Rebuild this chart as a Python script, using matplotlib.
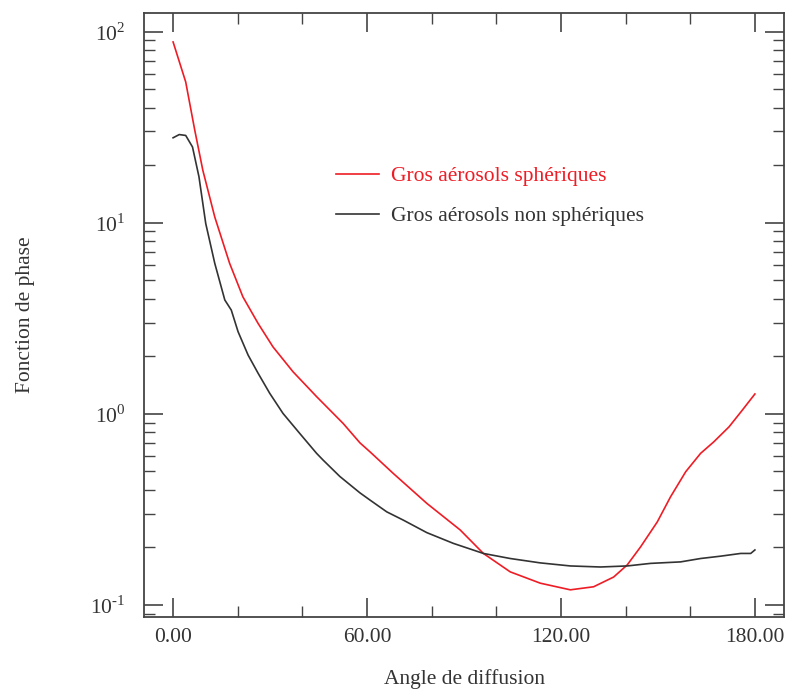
import numpy as np
import matplotlib.pyplot as plt
from matplotlib.ticker import MultipleLocator, LogLocator, FuncFormatter, NullFormatter

plt.rcParams['font.family'] = ['Liberation Serif', 'DejaVu Serif']
plt.rcParams['mathtext.fontset'] = 'custom'
plt.rcParams['mathtext.rm'] = 'Liberation Serif'

# Gros aérosols sphériques
angles_sph = [0, 3.9, 6.7, 9.2, 12.9, 17.5, 21.6, 26.3, 30.9, 37.1, 44.4, 52.6, 57.8, 60.9,
              68.1, 78.5, 88.8, 96.0, 104.3, 113.6, 122.9, 130.1, 136.3, 140.5, 144.6, 149.8,
              153.9, 158.6, 163.2, 167.3, 172.0, 176.1, 180]
phase_sph = [88.2, 54.5, 30.5, 18.8, 10.7, 6.12, 4.09, 2.97, 2.24, 1.66, 1.23, 0.891, 0.705,
             0.633, 0.488, 0.340, 0.247, 0.186, 0.149, 0.130, 0.120, 0.1245, 0.140, 0.162,
             0.201, 0.272, 0.368, 0.498, 0.621, 0.714, 0.855, 1.045, 1.27]

# Gros aérosols non sphériques
angles_nsph = [0, 1.9, 3.9, 6.0, 8.0, 10.1, 12.9, 16.0, 18.0, 20.1, 23.2, 26.3, 29.9, 34.0,
               39.2, 44.4, 46.4, 51.6, 57.8, 60.9, 66.1, 71.2, 78.5, 86.7, 96.0, 104.3, 113.6,
               122.9, 132.2, 140.5, 147.7, 157.0, 163.2, 169.4, 175.6, 178.7, 180]
phase_nsph = [27.8, 28.9, 28.6, 24.9, 17.4, 9.9, 6.12, 3.94, 3.49, 2.69, 2.03, 1.63, 1.28,
              1.005, 0.789, 0.621, 0.573, 0.47, 0.386, 0.354, 0.307, 0.278, 0.239, 0.210,
              0.186, 0.175, 0.166, 0.160, 0.158, 0.160, 0.165, 0.168, 0.175, 0.180, 0.186,
              0.186, 0.194]

fig = plt.figure(figsize=(7.89, 6.90), dpi=100)
ax = fig.add_axes([144/789, 1-617/690, 640/789, 604/690])

ax.plot(angles_sph, phase_sph, color='#ee1c25', lw=1.2, label='Gros aérosols sphériques')
ax.plot(angles_nsph, phase_nsph, color='#333333', lw=1.2, label='Gros aérosols non sphériques')

ax.set_yscale('log')
ax.set_xlim(-9, 189)
ax.set_ylim(0.0865, 125)

ax.xaxis.set_major_locator(MultipleLocator(60))
ax.xaxis.set_minor_locator(MultipleLocator(20))
ax.xaxis.set_major_formatter(FuncFormatter(lambda v, p: f'{v:.2f}'))
ax.yaxis.set_major_locator(LogLocator(base=10))
ax.yaxis.set_minor_locator(LogLocator(base=10, subs=np.arange(2, 10)))
ax.yaxis.set_major_formatter(FuncFormatter(
    lambda v, p: '$10^{\\text{%d}}$' % int(round(np.log10(v)))))
ax.yaxis.set_minor_formatter(NullFormatter())

for s in ax.spines.values():
    s.set_color('#444444')
    s.set_linewidth(1.3)

ax.tick_params(which='both', direction='in', top=True, right=True, color='#444444',
               labelcolor='#333333', labelsize=15.5)
ax.tick_params(which='major', length=14, width=1.2)
ax.tick_params(which='minor', length=8, width=1.0)
ax.tick_params(axis='x', pad=8)
ax.tick_params(axis='y', pad=13.5)

ax.set_xlabel('Angle de diffusion', fontsize=15.5, color='#333333')
ax.set_ylabel('Fonction de phase', fontsize=15.5, color='#333333')
ax.xaxis.set_label_coords(0.5, -0.087)
ax.yaxis.set_label_coords(-0.185, 0.5)
ax.yaxis.label.set_va('center')

ax.legend(loc='upper left', bbox_to_anchor=(0.3, 0.746), frameon=False, fontsize=15.5,
          handlelength=2.0, handletextpad=0.56, labelspacing=0.92, borderpad=0,
          borderaxespad=0, labelcolor='linecolor')

fig.savefig('out.png', dpi=100)
